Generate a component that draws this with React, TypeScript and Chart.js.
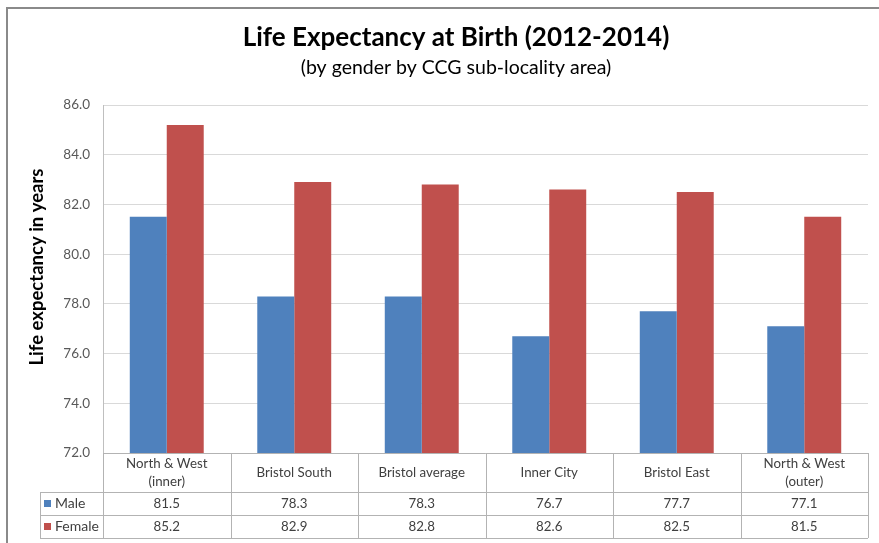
import React, { useEffect, useRef } from "react";
import { Chart, registerables } from "chart.js";

Chart.register(...registerables);

const titleText = "Life Expectancy at Birth (2012-2014)";
const subtitleText = "(by gender by CCG sub-locality area)";
const yAxisTitle = "Life expectancy in years";
const categories: string[][] = [
  ["North & West", "(inner)"],
  ["Bristol South"],
  ["Bristol average"],
  ["Inner City"],
  ["Bristol East"],
  ["North & West", "(outer)"],
];
const seriesNames = ["Male", "Female"];
const maleValues = [81.5, 78.3, 78.3, 76.7, 77.7, 77.1];
const femaleValues = [85.2, 82.9, 82.8, 82.6, 82.5, 81.5];
const yMin = 72;
const yMax = 86;
const yStep = 2;

const BLUE = "#4F81BD";
const RED = "#C0504D";
const FONT = "Lato, 'Open Sans', sans-serif";

export default function App() {
  const ref = useRef<HTMLCanvasElement | null>(null);

  useEffect(() => {
    document.body.style.margin = "0";
    const canvas = ref.current;
    if (!canvas) return;

    const tablePlugin = {
      id: "tablePlugin",
      afterDraw(chart: any) {
        const ctx = chart.ctx as CanvasRenderingContext2D;
        const area = chart.chartArea;
        const xs = chart.scales.x;
        ctx.save();

        // frame
        ctx.strokeStyle = "#8a8a8a";
        ctx.lineWidth = 2;
        ctx.beginPath();
        ctx.moveTo(879, 8);
        ctx.lineTo(7, 8);
        ctx.lineTo(7, 543);
        ctx.stroke();

        // titles
        ctx.fillStyle = "#000";
        ctx.textAlign = "center";
        ctx.textBaseline = "middle";
        ctx.font = `bold 26px ${FONT}`;
        ctx.fillText(titleText, 456, 38);
        ctx.font = `19.5px ${FONT}`;
        ctx.fillText(subtitleText, 456, 68);

        // y title
        ctx.save();
        ctx.translate(37, (area.top + area.bottom) / 2 - 12);
        ctx.rotate(-Math.PI / 2);
        ctx.font = `bold 18.5px ${FONT}`;
        ctx.fillText(yAxisTitle, 0, 0);
        ctx.restore();

        // table
        const n = categories.length;
        const bounds: number[] = [area.left];
        for (let i = 1; i < n; i++) {
          bounds.push((xs.getPixelForValue(i - 1) + xs.getPixelForValue(i)) / 2);
        }
        bounds.push(area.right);
        const top = area.bottom;
        const r1 = top + 39;
        const r2 = r1 + 23;
        const r3 = r2 + 23;
        const legendLeft = 40;

        ctx.strokeStyle = "#b3b3b3";
        ctx.lineWidth = 1;
        ctx.beginPath();
        const h = (x1: number, x2: number, y: number) => {
          ctx.moveTo(x1, Math.round(y) + 0.5);
          ctx.lineTo(x2, Math.round(y) + 0.5);
        };
        const v = (x: number, y1: number, y2: number) => {
          ctx.moveTo(Math.round(x) + 0.5, y1);
          ctx.lineTo(Math.round(x) + 0.5, y2);
        };
        h(area.left, area.right, top);
        h(legendLeft, area.right, r1);
        h(legendLeft, area.right, r2);
        h(legendLeft, area.right, r3);
        v(legendLeft, r1, r3);
        bounds.forEach((b) => v(b, top, r3));
        ctx.stroke();

        ctx.fillStyle = "#404040";
        ctx.font = `13.3px ${FONT}`;
        ctx.textAlign = "center";
        ctx.textBaseline = "middle";
        for (let i = 0; i < n; i++) {
          const cx = xs.getPixelForValue(i);
          const lines = categories[i];
          const mid = (top + r1) / 2;
          const lh = 18;
          lines.forEach((ln, k) => {
            ctx.fillText(ln, cx, mid + (k - (lines.length - 1) / 2) * lh);
          });
          ctx.fillText(maleValues[i].toFixed(1), cx, (r1 + r2) / 2);
          ctx.fillText(femaleValues[i].toFixed(1), cx, (r2 + r3) / 2);
        }
        // legend keys
        const keys = [BLUE, RED];
        const rowsMid = [(r1 + r2) / 2, (r2 + r3) / 2];
        ctx.textAlign = "left";
        ctx.font = `14px ${FONT}`;
        keys.forEach((c, k) => {
          ctx.fillStyle = c;
          ctx.fillRect(44, rowsMid[k] - 3.5, 7, 7);
          ctx.fillStyle = "#404040";
          ctx.fillText(seriesNames[k], 55, rowsMid[k]);
        });

        ctx.restore();
      },
    };

    const chart = new Chart(canvas, {
      type: "bar",
      data: {
        labels: categories.map((c) => c.join(" ")),
        datasets: [
          { label: seriesNames[0], data: maleValues, backgroundColor: BLUE, borderWidth: 0 },
          { label: seriesNames[1], data: femaleValues, backgroundColor: RED, borderWidth: 0 },
        ],
      },
      options: {
        responsive: false,
        animation: false,
        layout: { padding: { top: 105, bottom: 90, right: 11, left: 0 } },
        plugins: {
          legend: { display: false },
          title: { display: false },
          tooltip: { enabled: false },
        },
        datasets: { bar: { categoryPercentage: 0.58, barPercentage: 1 } },
        scales: {
          x: {
            display: true,
            grid: { display: false },
            border: { display: false },
            ticks: { display: false },
            afterFit: (s: any) => {
              s.height = 0;
            },
          },
          y: {
            min: yMin,
            max: yMax,
            grid: { color: "#d9d9d9", drawTicks: false },
            border: { color: "#bfbfbf" },
            ticks: {
              stepSize: yStep,
              padding: 13,
              color: "#595959",
              font: { family: FONT, size: 13.5 },
              callback: (val: any) => Number(val).toFixed(1),
            },
            afterFit: (s: any) => {
              s.width = 103;
            },
          },
        },
      },
      plugins: [tablePlugin],
    });

    return () => chart.destroy();
  }, []);

  return <canvas ref={ref} width={879} height={543} style={{ display: "block" }} />;
}
